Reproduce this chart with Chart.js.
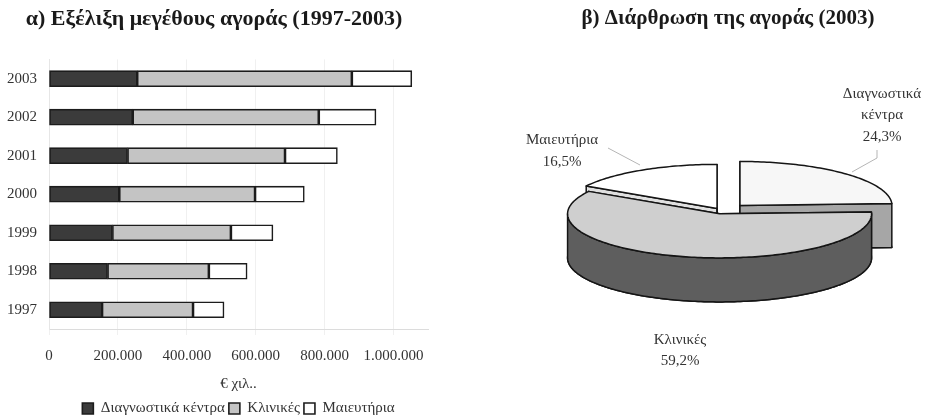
<!DOCTYPE html>
<html>
<head>
<meta charset="utf-8">
<script src="https://cdn.jsdelivr.net/npm/chart.js@4.4.1/dist/chart.umd.min.js"></script>
<style>
  html, body { margin: 0; padding: 0; background: #fff; }
  #wrap { position: relative; width: 927px; height: 420px; }
  #barBox { position: absolute; left: 0; top: 0; width: 460px; height: 420px; }
  #pieBox { position: absolute; left: 460px; top: 0; width: 467px; height: 420px; }
</style>
</head>
<body>
<div id="wrap">
  <div id="barBox"><canvas id="barChart"></canvas></div>
  <div id="pieBox"><canvas id="pieChart"></canvas></div>
</div>
<script>
// market size per segment, € thousands
const years = ['1997', '1998', '1999', '2000', '2001', '2002', '2003'];
const diagnostika = [154000, 170000, 184000, 204000, 228000, 243000, 256000];
const klinikes = [264000, 294000, 344000, 394000, 457000, 540000, 623000];
const maieutiria = [90000, 111000, 122000, 143000, 152000, 166000, 174000];
const seriesNames = ['Διαγνωστικά κέντρα', 'Κλινικές', 'Μαιευτήρια'];
const xTicks = [0, 200000, 400000, 600000, 800000, 1000000];

// market structure 2003, %
const pieLabels = ['Διαγνωστικά κέντρα', 'Κλινικές', 'Μαιευτήρια'];
const pieShares = [24.3, 59.2, 16.5];

const serif = "'Liberation Serif', 'DejaVu Serif', serif";
const textColor = '#333';

// 1000000 -> "1.000.000"
function fmtThousands(n) {
    return String(n).replace(/\B(?=(\d{3})+(?!\d))/g, '.');
}

// 24.3 -> "24,3%"
function fmtPercent(v) {
    return v.toFixed(1).replace('.', ',') + '%';
}

new Chart(document.getElementById('barChart'), {
    type: 'bar',
    data: {
        labels: years,
        datasets: [
            { label: seriesNames[0], data: diagnostika, backgroundColor: '#3b3b3b' },
            { label: seriesNames[1], data: klinikes, backgroundColor: '#c4c4c4' },
            { label: seriesNames[2], data: maieutiria, backgroundColor: '#ffffff' }
        ]
    },
    options: {
        indexAxis: 'y',
        responsive: true,
        maintainAspectRatio: false,
        animation: false,
        datasets: {
            bar: { borderColor: '#1c1c1c', borderWidth: 1.6, borderSkipped: false, barThickness: 16 }
        },
        layout: { padding: { left: 0, right: 32, top: 0, bottom: -6 } },
        plugins: {
            title: {
                display: true,
                text: 'α) Εξέλιξη μεγέθους αγοράς (1997-2003)',
                font: { family: serif, size: 22, weight: 'bold' },
                color: '#1a1a1a',
                padding: { top: 6, bottom: 27 }
            },
            legend: {
                position: 'bottom',
                fullSize: false,
                labels: {
                    boxWidth: 11,
                    boxHeight: 11,
                    padding: 4,
                    color: textColor,
                    font: { family: serif, size: 15 }
                }
            },
            tooltip: { enabled: false }
        },
        scales: {
            x: {
                stacked: true,
                min: 0,
                max: 1100000,
                grid: { color: '#f0f0f0', tickLength: 6 },
                border: { color: '#dcdcdc' },
                afterBuildTicks: s => { s.ticks = xTicks.map(v => ({ value: v })); },
                ticks: {
                    autoSkip: false,
                    maxRotation: 0,
                    padding: 12,
                    color: textColor,
                    font: { family: serif, size: 15 },
                    callback: v => fmtThousands(v)
                },
                title: {
                    display: true,
                    text: '€ χιλ..',
                    color: textColor,
                    font: { family: serif, size: 15 },
                    padding: { top: -2, bottom: 4 }
                }
            },
            y: {
                stacked: true,
                reverse: true,
                grid: { display: false },
                border: { color: '#e6e6e6' },
                ticks: { padding: 4, color: textColor, font: { family: serif, size: 15 } },
                afterFit: s => { s.width = 49; }
            }
        }
    }
});

// 3D look for the pie: ellipse squash, extruded sides, exploded slices
const pie3d = {
    id: 'pie3d',
    beforeDatasetsDraw(chart, args, opts) {
        const ctx = chart.ctx;
        const meta = chart.getDatasetMeta(0);
        const ds = chart.data.datasets[0];
        const { cx, cy, rx, squash, depth, drawOrder, sideColors } = opts;

        ctx.save();
        ctx.lineWidth = 1.5;
        ctx.strokeStyle = '#151515';
        ctx.lineJoin = 'round';

        drawOrder.forEach(i => {
            const arc = meta.data[i];
            const p = arc.getProps(['startAngle', 'endAngle'], true);
            const start = p.startAngle, end = p.endAngle;
            const off = arc.options.offset || 0;
            const mid = (start + end) / 2;
            const ox = Math.cos(mid) * off;
            const oy = Math.sin(mid) * off;
            const pt = (a, dz) => [cx + ox + rx * Math.cos(a), cy + squash * (oy + rx * Math.sin(a)) + dz];
            const ctr = dz => [cx + ox, cy + squash * oy + dz];
            const trace = (a0, a1, dz, first) => {
                const n = Math.max(2, Math.ceil(Math.abs(a1 - a0) / 0.02));
                for (let k = 0; k <= n; k++) {
                    const q = pt(a0 + (a1 - a0) * k / n, dz);
                    if (k === 0 && first) ctx.moveTo(q[0], q[1]);
                    else ctx.lineTo(q[0], q[1]);
                }
            };
            const paint = fill => { ctx.fillStyle = fill; ctx.fill(); ctx.stroke(); };

            // bottom face
            ctx.beginPath();
            ctx.moveTo(...ctr(depth));
            trace(start, end, depth, false);
            ctx.closePath();
            paint(sideColors[i]);

            // radial cut faces
            [start, end].forEach(a => {
                ctx.beginPath();
                ctx.moveTo(...ctr(0));
                ctx.lineTo(...pt(a, 0));
                ctx.lineTo(...pt(a, depth));
                ctx.lineTo(...ctr(depth));
                ctx.closePath();
                paint(sideColors[i]);
            });

            // front curved wall
            const a0 = Math.max(start, 0), a1 = Math.min(end, Math.PI);
            if (a1 > a0) {
                ctx.beginPath();
                trace(a0, a1, 0, true);
                trace(a1, a0, depth, false);
                ctx.closePath();
                paint(sideColors[i]);
            }

            // top face
            ctx.beginPath();
            ctx.moveTo(...ctr(0));
            trace(start, end, 0, false);
            ctx.closePath();
            paint(ds.backgroundColor[i]);
        });
        ctx.restore();
        return false;
    },
    afterDraw(chart, args, opts) {
        const ctx = chart.ctx;
        const values = chart.data.datasets[0].data;
        ctx.save();
        ctx.font = '15px ' + serif;
        ctx.fillStyle = textColor;
        ctx.textAlign = 'center';
        ctx.textBaseline = 'middle';
        opts.labelSpots.forEach((spot, i) => {
            const lines = chart.data.labels[i].split(' ').concat(fmtPercent(values[i]));
            lines.forEach((t, k) => ctx.fillText(t, spot.x, spot.y + k * spot.step));
            if (spot.leader) {
                ctx.beginPath();
                ctx.strokeStyle = '#b5b5b5';
                ctx.lineWidth = 1;
                spot.leader.forEach((q, k) => k ? ctx.lineTo(q[0], q[1]) : ctx.moveTo(q[0], q[1]));
                ctx.stroke();
            }
        });
        ctx.restore();
    }
};

new Chart(document.getElementById('pieChart'), {
    type: 'pie',
    data: {
        labels: pieLabels,
        datasets: [{
            data: pieShares,
            backgroundColor: ['#f7f7f7', '#cfcfcf', '#ffffff'],
            offset: [26, 10, 10]
        }]
    },
    plugins: [pie3d],
    options: {
        responsive: true,
        maintainAspectRatio: false,
        animation: false,
        layout: { padding: { left: 69, right: 0, top: 0 } },
        plugins: {
            title: {
                display: true,
                text: 'β) Διάρθρωση της αγοράς (2003)',
                font: { family: serif, size: 21, weight: 'bold' },
                color: '#1a1a1a',
                padding: { top: 6, bottom: 10 }
            },
            legend: { display: false },
            tooltip: { enabled: false },
            pie3d: {
                cx: 262, cy: 211, rx: 152, squash: 0.29, depth: 44,
                drawOrder: [0, 2, 1],
                sideColors: ['#a6a6a6', '#5e5e5e', '#e0e0e0'],
                labelSpots: [
                    { x: 422, y: 94, step: 21.5, leader: [[392, 172], [417, 158], [417, 150]] },
                    { x: 220, y: 340, step: 21 },
                    { x: 102, y: 140, step: 22, leader: [[148, 148], [180, 165]] }
                ]
            }
        }
    }
});
</script>
</body>
</html>
